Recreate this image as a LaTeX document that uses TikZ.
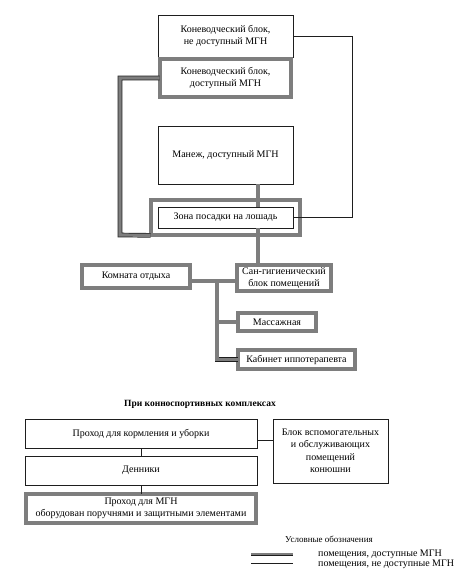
\documentclass[tikz,border=0pt]{standalone}
\usepackage{fontspec}
\setmainfont{Liberation Serif}
\usepackage{tikz}
\usetikzlibrary{calc,positioning}
\usepackage{xcolor}
\definecolor{mgInk}{HTML}{1E1E1E}
\definecolor{mgBand}{HTML}{7E7E7E}
\tikzset{
  room/.style={draw=mgInk, line width=0.6pt, fill=white, inner sep=1pt, align=center, font=\fontsize{10}{12.5}\selectfont},
  roomA/.style={room, draw=mgInk, double=mgBand, double distance=3.2pt, line width=0.7pt, font=\fontsize{10}{11.5}\selectfont},
  ln/.style={draw=mgInk, line width=0.6pt},
  lnA/.style={draw=mgInk, double=mgBand, double distance=3.2pt, line width=0.7pt},
}

\begin{document}
\begin{tikzpicture}[x=1pt, y=-1pt]
        \useasboundingbox (0,0) rectangle (456,583);
        % ---------- upper scheme ----------
        \node[room, minimum width=135pt, minimum height=42pt] (blockN) at (225.5,36) {Коневодческий блок,\\не доступный МГН};
        \node[roomA, minimum width=131pt, minimum height=38pt] (blockA) at (225.5,78) {Коневодческий блок,\\доступный МГН};
        \node[room, minimum width=135pt, minimum height=58pt] (manege) at (225.5,155) {Манеж, доступный МГН};
        \node[roomA, minimum width=149pt, minimum height=35pt] (zoneA) at (225.5,217.5) {};
        \node[room, minimum width=135pt, minimum height=21pt] (zone) at (225.5,217.5) {Зона посадки на лошадь};
        \node[roomA, minimum width=108pt, minimum height=23pt] (rest) at (136,276.5) {Комната отдыха};
        \node[roomA, minimum width=94pt, minimum height=26pt] (sanit) at (284,278) {Сан-гигиенический\\блок помещений};
        \node[roomA, minimum width=78pt, minimum height=18pt] (massage) at (277,322) {Массажная};
        \node[roomA, minimum width=117pt, minimum height=19pt] (hippo) at (296.5,359.5) {Кабинет иппотерапевта};
        \coordinate (rt) at (352,36);
        \coordinate (lc) at (120,235);
        \coordinate (trunk) at (258,0);
        \coordinate (br) at (217,281);
        \draw[ln] (blockN.east) -- (rt) |- (zone.east);
        \draw[lnA] (blockA.west) -| (lc) -- (zoneA.south west);
        \draw[lnA] (manege.south -| trunk) -- (zone.north -| trunk);
        \draw[lnA] (zone.south -| trunk) -- (sanit.north -| trunk);
        \draw[lnA] (rest.east |- br) -- (sanit.west |- br);
        \draw[lnA] (br) |- (hippo.west);
        \draw[lnA] (massage.west -| br) -- (massage.west);
        % ---------- stables ----------
        \node[font=\fontsize{9.5}{12}\selectfont\bfseries] (title) at (200,404) {При конноспортивных комплексах};
        \node[room, minimum width=232pt, minimum height=29pt] (feed) at (141,433.5) {Проход для кормления и уборки};
        \node[room, minimum width=115pt, minimum height=64pt] (aux) at (330.5,451) {Блок вспомогательных\\и обслуживающих\\помещений\\конюшни};
        \node[room, minimum width=232pt, minimum height=29pt] (stalls) at (141,470.5) {Денники};
        \node[roomA, minimum width=230pt, minimum height=29pt] (mgnpass) at (141,508.5) {Проход для МГН\\оборудован поручнями и защитными элементами};
        \coordinate (fa) at (0,440);
        \draw[ln] (feed.east |- fa) -- (aux.west |- fa);
        \draw[ln] (feed.south) -- (stalls.north);
        \draw[ln] (stalls.south) -- (mgnpass.north);
        % ---------- legend ----------
        \node[font=\fontsize{9}{10}\selectfont] (leg) at (329,539) {Условные обозначения};
        \coordinate (la1) at (251,554); \coordinate (la2) at (293,554);
        \coordinate (lb1) at (251,563); \coordinate (lb2) at (293,563);
        \draw[lnA, double distance=2pt, line width=0.5pt] (la1) -- (la2);
        \draw[ln] (lb1) -- (lb2);
        \node[anchor=west, inner sep=0pt, font=\fontsize{10}{10}\selectfont] (legA) at (318,554) {помещения, доступные МГН};
        \node[anchor=west, inner sep=0pt, font=\fontsize{10}{10}\selectfont] (legB) at (318,564) {помещения, не доступные МГН};
    \end{tikzpicture}
\end{document}
